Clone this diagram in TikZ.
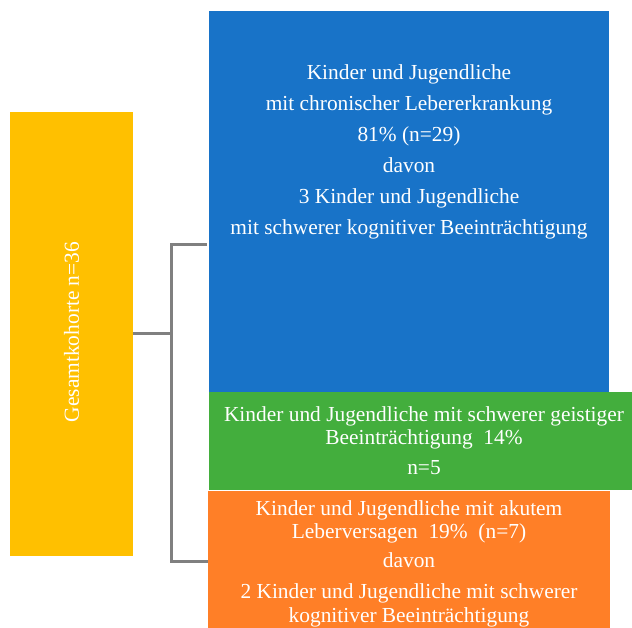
\documentclass[tikz,border=0pt]{standalone}
\usepackage{fontspec}
\setmainfont{Liberation Serif}
\definecolor{cblue}{RGB}{24,115,200}
\definecolor{cgreen}{RGB}{67,174,61}
\definecolor{corange}{RGB}{255,127,39}
\definecolor{cyellow}{RGB}{255,192,0}
\definecolor{cgray}{RGB}{128,128,128}
\begin{document}
\begin{tikzpicture}[x=1pt,y=-1pt,
  boxst/.style={rectangle,inner sep=0pt,outer sep=0pt,draw=none},
  txt/.style={text=white,align=center,font=\fontsize{21.4}{23.5}\selectfont,inner sep=0pt},
  conn/.style={draw=cgray,line width=3pt}]
\useasboundingbox (0,0) rectangle (632,628);
\fill[white] (0,0) rectangle (632,628);
% boxes
\node[boxst,fill=cyellow,minimum width=123pt,minimum height=444pt] (yellow) at (71.5,334) {};
\node[boxst,fill=cblue,minimum width=400pt,minimum height=381pt] (blue) at (409,201.5) {};
\node[boxst,fill=cgreen,minimum width=428pt,minimum height=98pt] (green) at (423,441) {};
\node[boxst,fill=corange,minimum width=402pt,minimum height=140pt] (orange) at (409,561) {};
% texts
\node[txt,rotate=90] (ytxt) at (71.5,332) {Gesamtkohorte n=36};
\node[txt] (btxt) at (409,151.5) {Kinder und Jugendliche\\[7.5pt]mit chronischer Lebererkrankung\\[7.5pt]81\% (n=29)\\[7.5pt]davon\\[7.5pt]3 Kinder und Jugendliche\\[7.5pt]mit schwerer kognitiver Beeinträchtigung};
\node[txt] (gtxt) at (424,440.5) {Kinder und Jugendliche mit schwerer geistiger\\Beeinträchtigung\ \ 14\%\\[6.5pt]n=5};
\node[txt] (otxt) at (409,563.5) {Kinder und Jugendliche mit akutem\\Leberversagen\ \ 19\%\ \ (n=7)\\[5pt]davon\\[8pt]2 Kinder und Jugendliche mit schwerer\\kognitiver Beeinträchtigung};
% connectors
\coordinate (j) at (171,334);
\coordinate (bin) at (207,245);
\coordinate (oin) at (208,561);
\draw[conn] (yellow.east) -- (j) |- (bin);
\draw[conn] (j) |- (oin);
\end{tikzpicture}
\end{document}
